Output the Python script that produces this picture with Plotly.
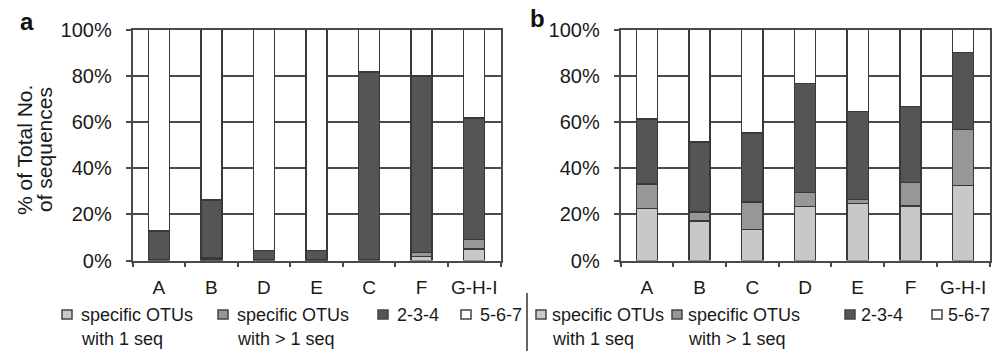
import plotly.graph_objects as go

W, H = 993, 351

# ---------------- data ----------------
cats_a = ["A", "B", "D", "E", "C", "F", "G-H-I"]
cats_b = ["A", "B", "C", "D", "E", "F", "G-H-I"]

series_names = ["specific OTUs with 1 seq", "specific OTUs with > 1 seq", "2-3-4", "5-6-7"]
legend_line1 = ["specific OTUs", "specific OTUs", "2-3-4", "5-6-7"]
legend_line2 = ["with 1 seq", "with > 1 seq", "", ""]

a_spec1 = [0.0, 0.3, 0.0, 0.0, 0.0, 1.8, 5.0]
a_spec2 = [0.5, 0.8, 0.5, 0.3, 0.4, 1.6, 4.1]
a_234 = [12.2, 25.2, 3.8, 4.0, 81.2, 76.4, 52.6]
a_567 = [87.3, 73.7, 95.7, 95.7, 18.4, 20.2, 38.3]

b_spec1 = [22.5, 17.0, 13.4, 23.3, 24.7, 23.7, 32.4]
b_spec2 = [10.6, 4.1, 12.0, 6.1, 1.8, 10.0, 24.3]
b_234 = [28.2, 30.2, 29.8, 47.3, 37.9, 32.9, 33.4]
b_567 = [38.7, 48.7, 44.8, 23.3, 35.6, 33.4, 9.9]

y_ticks = [0, 20, 40, 60, 80, 100]
y_ticktext = ["0%", "20%", "40%", "60%", "80%", "100%"]

# ---------------- styles ----------------
colors = ["#c8c8c8", "#979797", "#555555", "#ffffff"]
edge = "#383838"
FONT = "Liberation Sans"
TXT = "#1a1a1a"

def px(x):
    return x / W

def py(y):
    return 1 - y / H

fig = go.Figure()

panels = [
    ("x", "y", cats_a, [a_spec1, a_spec2, a_234, a_567]),
    ("x2", "y2", cats_b, [b_spec1, b_spec2, b_234, b_567]),
]
for xa, ya, cats, vals in panels:
    for name, col, v in zip(series_names, colors, vals):
        fig.add_trace(go.Bar(
            x=cats, y=v, name=name, xaxis=xa, yaxis=ya,
            marker=dict(color=col, line=dict(color=edge, width=1.5)),
            showlegend=False, hoverinfo="skip",
        ))

y_dom = [py(260.5), py(29.5)]
axis_common_x = dict(
    showgrid=False, showline=True, mirror=True, linecolor="#4a4a4a", linewidth=1.5,
    ticks="outside", tickson="boundaries", ticklen=5, tickwidth=1.5, tickcolor="#4a4a4a",
    tickfont=dict(family=FONT, size=19, color=TXT), ticklabelstandoff=9,
    tickangle=0, automargin=False, fixedrange=True,
    type="category",
)
axis_common_y = dict(
    range=[0, 100], tickvals=y_ticks, ticktext=y_ticktext,
    showgrid=True, gridcolor="#4a4a4a", gridwidth=1.5,
    showline=True, mirror=True, linecolor="#4a4a4a", linewidth=1.5,
    ticks="outside", ticklen=5, tickwidth=1.5, tickcolor="#4a4a4a",
    tickfont=dict(family=FONT, size=20, color=TXT), ticklabelstandoff=10,
    zeroline=False, fixedrange=True, automargin=False,
)

fig.update_layout(
    width=W, height=H,
    margin=dict(l=0, r=0, t=0, b=0, autoexpand=False),
    paper_bgcolor="white", plot_bgcolor="white",
    barmode="stack", bargap=0.6,
    font=dict(family=FONT, color=TXT),
    xaxis=dict(domain=[px(132.5), px(500.5)], anchor="y", **axis_common_x),
    yaxis=dict(domain=y_dom, anchor="x", **axis_common_y),
    xaxis2=dict(domain=[px(620.5), px(989.5)], anchor="y2", **axis_common_x),
    yaxis2=dict(domain=y_dom, anchor="x2", **axis_common_y),
)

annotations = []
shapes = []

# y-axis title (two lines)
for txt, xc in [("% of Total No.", 24.0), ("of sequences", 44.0)]:
    annotations.append(dict(
        text=txt, x=px(xc), y=py(150), xref="paper", yref="paper",
        xanchor="center", yanchor="middle", textangle=-90, showarrow=False,
        font=dict(family=FONT, size=21, color=TXT),
    ))

# panel letters
for txt, xc, yc in [("a", 26.5, 21), ("b", 537.5, 18)]:
    annotations.append(dict(
        text="<b>%s</b>" % txt, x=px(xc), y=py(yc), xref="paper", yref="paper",
        xanchor="center", yanchor="middle", showarrow=False,
        font=dict(family=FONT, size=24, color="#111111"),
    ))

# legends (one per panel)
legend_groups = [
    ([62, 218, 378, 461], 17),
    ([536, 672, 845, 932], 14),
]
for sq_x, toff in legend_groups:
    for i in range(len(series_names)):
        x0 = sq_x[i]
        shapes.append(dict(
            type="rect", xref="paper", yref="paper",
            x0=px(x0), x1=px(x0 + 10), y0=py(319), y1=py(310),
            fillcolor=colors[i], line=dict(color="#444444", width=1.5),
        ))
        annotations.append(dict(
            text=legend_line1[i], x=px(x0 + toff), y=py(314.5), xref="paper", yref="paper",
            xanchor="left", yanchor="middle", showarrow=False,
            font=dict(family=FONT, size=18, color=TXT),
        ))
        if legend_line2[i]:
            annotations.append(dict(
                text=legend_line2[i], x=px(x0 + toff), y=py(339), xref="paper", yref="paper",
                xanchor="left", yanchor="middle", showarrow=False,
                font=dict(family=FONT, size=18, color=TXT),
            ))

# divider between the two legends
shapes.append(dict(
    type="line", xref="paper", yref="paper",
    x0=px(527), x1=px(527), y0=py(293), y1=py(351),
    line=dict(color="#333333", width=1.5),
))

fig.update_layout(annotations=annotations, shapes=shapes)
fig.write_html(
    "out.html",
    config={"displayModeBar": False},
    post_script="document.body.style.margin='0px';document.body.style.overflow='hidden';",
)
